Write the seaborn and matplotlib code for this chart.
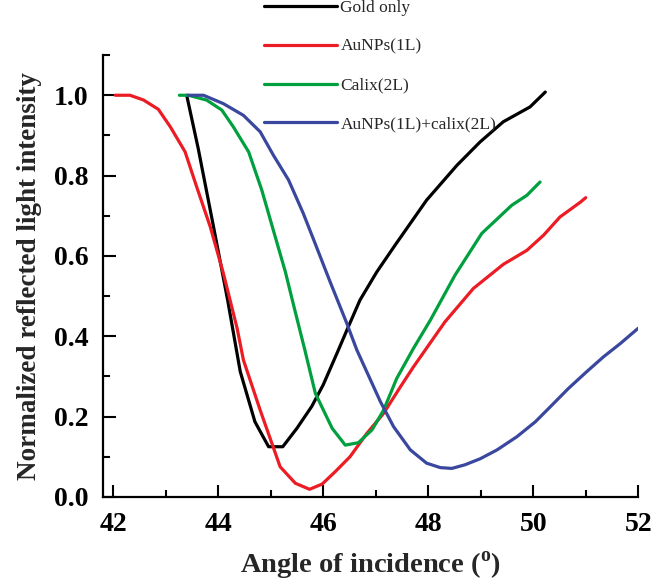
# SPR reflectivity curves

import pandas as pd
import numpy as np
import matplotlib
matplotlib.use("Agg")
import matplotlib.pyplot as plt
import seaborn as sns
from matplotlib.ticker import MultipleLocator, FormatStrFormatter


# Data:-
gold_x = [43.40, 43.62, 43.90, 44.18, 44.42, 44.70, 44.96, 45.23, 45.50, 45.78,
          46.00, 46.29, 46.45, 46.70, 47.02, 47.37, 47.97, 48.55, 48.99, 49.43,
          49.94, 50.23]
gold_y = [1.000, 0.867, 0.680, 0.490, 0.312, 0.187, 0.125, 0.125, 0.171, 0.225,
          0.279, 0.366, 0.415, 0.490, 0.560, 0.627, 0.739, 0.826, 0.884, 0.934,
          0.971, 1.008]

aunp_x = [42.04, 42.32, 42.58, 42.86, 43.09, 43.37, 43.59, 43.85, 44.10, 44.36,
          44.48, 44.80, 45.18, 45.47, 45.74, 45.98, 46.23, 46.51, 46.83, 47.15,
          47.47, 47.72, 48.32, 48.86, 49.43, 49.88, 50.20, 50.51, 50.90, 51.00]
aunp_y = [1.000, 1.000, 0.988, 0.965, 0.921, 0.859, 0.772, 0.672, 0.556, 0.420,
          0.341, 0.216, 0.075, 0.034, 0.019, 0.032, 0.063, 0.100, 0.158, 0.208,
          0.274, 0.324, 0.436, 0.519, 0.579, 0.614, 0.652, 0.697, 0.734, 0.745]

calix_x = [43.26, 43.43, 43.78, 44.07, 44.29, 44.58, 44.83, 45.05, 45.28, 45.45,
           45.65, 45.85, 46.17, 46.42, 46.67, 46.93, 47.15, 47.40, 47.72, 48.04,
           48.51, 49.02, 49.59, 49.88, 50.13]
calix_y = [1.000, 1.000, 0.988, 0.963, 0.921, 0.859, 0.764, 0.664, 0.560, 0.470,
           0.366, 0.258, 0.171, 0.129, 0.135, 0.167, 0.216, 0.295, 0.370, 0.440,
           0.552, 0.656, 0.726, 0.751, 0.784]

both_x = [43.43, 43.72, 44.10, 44.48, 44.80, 45.05, 45.34, 45.62, 45.81, 46.13,
          46.45, 46.64, 47.09, 47.34, 47.66, 47.97, 48.23, 48.45, 48.70, 48.99,
          49.31, 49.69, 50.04, 50.36, 50.67, 51.02, 51.34, 51.66, 52.00]
both_y = [1.000, 1.000, 0.979, 0.950, 0.909, 0.851, 0.789, 0.706, 0.643, 0.536,
          0.432, 0.366, 0.237, 0.175, 0.117, 0.084, 0.073, 0.071, 0.080, 0.095,
          0.117, 0.150, 0.187, 0.229, 0.270, 0.312, 0.349, 0.382, 0.420]

labels = ["Gold only", "AuNPs(1L)", "Calix(2L)", "AuNPs(1L)+calix(2L)"]
colors = ["#000000", "#ec1c24", "#00a03e", "#3a479e"]

series = [(gold_x, gold_y), (aunp_x, aunp_y), (calix_x, calix_y), (both_x, both_y)]
frames = []
for name, (xs, ys) in zip(labels, series):
    frames.append(pd.DataFrame({"angle": xs, "intensity": ys, "sample": name}))
df = pd.concat(frames, ignore_index=True)


# Plot:-
sns.set_style("ticks")
plt.rcParams["font.family"] = ["Liberation Serif", "DejaVu Serif"]
plt.rcParams["mathtext.fontset"] = "custom"
plt.rcParams["mathtext.rm"] = "Liberation Serif:bold"

fig = plt.figure(figsize=(6.69, 5.86), dpi=100)
ax = fig.add_axes([0.1535, 0.152, 0.8005, 0.754])

sns.lineplot(data=df, x="angle", y="intensity", hue="sample",
             palette=dict(zip(labels, colors)), hue_order=labels,
             estimator=None, sort=False, linewidth=2.3, ax=ax)

ax.set_xlim(41.8, 52.0)
ax.set_ylim(0.0, 1.1)
ax.xaxis.set_major_locator(MultipleLocator(2))
ax.xaxis.set_minor_locator(MultipleLocator(1))
ax.yaxis.set_major_locator(MultipleLocator(0.2))
ax.yaxis.set_minor_locator(MultipleLocator(0.1))
ax.yaxis.set_major_formatter(FormatStrFormatter("%.1f"))

ax.tick_params(which="both", direction="in", width=1.5, colors="black")
ax.tick_params(which="major", length=9)
ax.tick_params(which="minor", length=5)
ax.tick_params(axis="x", pad=11)
ax.tick_params(axis="y", pad=10)
for lab in ax.get_xticklabels() + ax.get_yticklabels():
    lab.set_fontsize(20)
    lab.set_fontweight("bold")

sns.despine(ax=ax)
for s in ["left", "bottom"]:
    ax.spines[s].set_linewidth(1.6)
    ax.spines[s].set_color("black")

ax.set_xlabel(r"Angle of incidence ($^{\mathrm{o}}$)", fontsize=20.5,
              fontweight="bold", labelpad=9)
ax.set_ylabel("Normalized reflected light intensity", fontsize=19.5,
              fontweight="bold", labelpad=9)

handles, labs = ax.get_legend_handles_labels()
ax.legend(handles, labs, loc="upper left", bbox_to_anchor=(264 / 669, 1.0),
          bbox_transform=fig.transFigure, frameon=False, fontsize=12.5,
          handlelength=4.2, handletextpad=0.2, labelspacing=1.3,
          borderpad=0, borderaxespad=0)

plt.savefig("out.png", dpi=100)
